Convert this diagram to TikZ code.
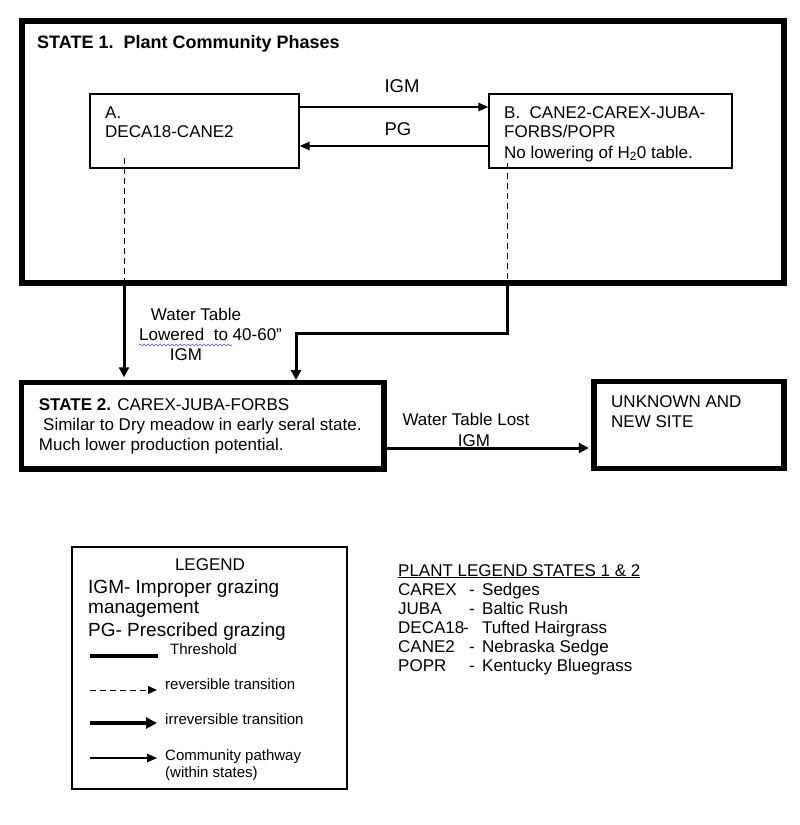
\documentclass[tikz,border=0pt]{standalone}
\usepackage{fontspec}
\setmainfont{Liberation Sans}
\usetikzlibrary{arrows.meta, positioning, decorations.pathmorphing}

\begin{document}
\begin{tikzpicture}[
    x=1pt, y=1pt,
    >={Triangle[length=10pt, width=10pt]},
    box/.style={rectangle, draw, line width=1.3pt, inner sep=0pt},
    statebox/.style={rectangle, draw, line width=5.5pt, inner sep=0pt},
    txt/.style={anchor=base west, inner sep=0pt, font=\fontsize{17}{20}\selectfont},
    lbl/.style={anchor=base, inner sep=0pt, font=\fontsize{17}{20}\selectfont},
    small/.style={anchor=base west, inner sep=0pt, font=\fontsize{15}{18}\selectfont},
    big/.style={anchor=base west, inner sep=0pt, font=\fontsize{19}{22}\selectfont},
    pathway/.style={->, line width=1.3pt, >={Triangle[length=10pt, width=8.5pt]}},
    thresh/.style={line width=3pt},
    revers/.style={line width=1pt, dash pattern=on 6pt off 4pt},
]
    \useasboundingbox (0,0) rectangle (800,-825);

    % state 1 and its phases
    \node[statebox, line width=6pt, minimum width=762pt, minimum height=262.5pt] (S1) at (403,-151.75) {};
    \node[box, minimum width=209pt, minimum height=74pt] (A) at (194.5,-131) {};
    \node[box, minimum width=243pt, minimum height=74pt] (B) at (610.5,-131) {};

    \node[txt, font=\bfseries\fontsize{18}{21}\selectfont] (s1title) at (37,-48) {STATE 1.\ \ Plant Community Phases};
    \node[txt] (a1) at (105,-118) {A.};
    \node[txt] (a2) at ([yshift=-19pt]a1.base west) {DECA18-CANE2};
    \node[txt] (b1) at (504,-118) {B.\ \ CANE2-CAREX-JUBA-};
    \node[txt] (b2) at ([yshift=-19pt]b1.base west) {FORBS/POPR};
    \node[txt] (b3) at ([yshift=-21pt]b2.base west) {No lowering of H\textsubscript{2}0 table.};

    \draw[pathway] ([yshift=24pt]A.east) -- ([yshift=24pt]A.east -| B.west);
    \draw[pathway] ([yshift=-15pt]B.west) -- ([yshift=-15pt]B.west -| A.east);
    \node[lbl, font=\fontsize{18.5}{22}\selectfont] (igm1) at (402,-92) {IGM};
    \node[lbl, font=\fontsize{18.5}{22}\selectfont] (pg1) at (398,-135) {PG};

    % state 2 and the unknown site
    \node[statebox, minimum width=362.4pt, minimum height=86.5pt] (S2) at (202.8,-425.75) {};
    \node[statebox, minimum width=190pt, minimum height=87pt] (U) at (689,-425) {};

    \node[txt] (s2a) at (38.7,-410) {\textbf{STATE 2.} CAREX-JUBA-FORBS};
    \node[txt] (s2b) at (43,-430) {Similar to Dry meadow in early seral state.};
    \node[txt] (s2c) at (38.7,-450) {Much lower production potential.};
    \node[txt] (u1) at (611,-407.7) {UNKNOWN AND};
    \node[txt] (u2) at ([yshift=-20pt]u1.base west) {NEW SITE};

    % transitions
    \coordinate (ad) at ([xshift=-70.5pt, yshift=-27pt]A.center);
    \coordinate (bd) at ([xshift=-103.5pt, yshift=-32pt]B.center);
    \draw[revers] (ad) -- (ad |- S1.south);
    \draw[revers] (bd) -- (bd |- S1.south);
    \draw[thresh, ->, shorten >=2.5pt] (ad |- S1.south) -- (ad |- S2.north);
    \draw[thresh, ->, shorten >=2.5pt] (bd |- S1.south) -- ++(0,-47) -| (296,-382.5);
    \draw[thresh, ->, shorten >=2.5pt] ([yshift=-22.25pt]S2.east) -- ([yshift=-22.25pt]S2.east -| U.west);

    \node[lbl] (wt1) at (196,-320) {Water Table};
    \node[txt] (low) at (139,-340) {Lowered\ \ to 40-60”};
    \node[lbl] (igm2) at (186,-360) {IGM};
    \draw[blue!70, line width=0.6pt, decorate, decoration={snake, amplitude=1pt, segment length=4pt}]
        ([yshift=-5pt]low.base west) -- ++(93,0);
    \node[lbl] (wtl) at (466,-425.7) {Water Table Lost};
    \node[lbl] (igm3) at (474,-446.7) {IGM};

    % legend
    \node[box, minimum width=275pt, minimum height=242pt] (L) at (209.5,-668) {};
    \node[lbl] (leg) at (210,-570.7) {LEGEND};
    \node[big] (leg1) at (88,-593.3) {IGM- Improper grazing};
    \node[big] (leg2) at (88,-613.5) {management};
    \node[big] (leg3) at (88,-636) {PG- Prescribed grazing};
    \node[small] (thr) at (170,-654) {Threshold};
    \node[small] (rev) at (165,-689) {reversible transition};
    \node[small] (irr) at (165,-724) {irreversible transition};
    \node[small] (com) at (165,-760) {Community pathway};
    \node[small] (com2) at (165,-777) {(within states)};
    \draw[line width=4.5pt] ([xshift=-80pt, yshift=-2pt]thr.base west) -- ++(68,0);
    \draw[revers, ->, >={Triangle[length=9pt, width=8pt]}] ([xshift=-75pt, yshift=-1pt]rev.base west) -- ++(67,0);
    \draw[line width=3.5pt, ->, >={Triangle[length=11pt, width=11pt]}] ([xshift=-75pt, yshift=1pt]irr.base west) -- ++(67,0);
    \draw[pathway] ([xshift=-75pt, yshift=2pt]com.base west) -- ++(67,0);

    % plant legend
    \node[txt] (pl) at (398,-576) {\underline{PLANT LEGEND STATES 1 \& 2}};
    \foreach \code/\dx/\plant [count=\i] in {CAREX/469/Sedges, JUBA/469/Baltic Rush,
        DECA18/463/Tufted Hairgrass, CANE2/469/Nebraska Sedge, POPR/469/Kentucky Bluegrass} {
        \node[txt] (code\i) at (398,{-576-19*\i}) {\code};
        \node[txt] (dash\i) at (\dx,{-576-19*\i}) {-};
        \node[txt] (plant\i) at (482,{-576-19*\i}) {\plant};
    }
\end{tikzpicture}
\end{document}
